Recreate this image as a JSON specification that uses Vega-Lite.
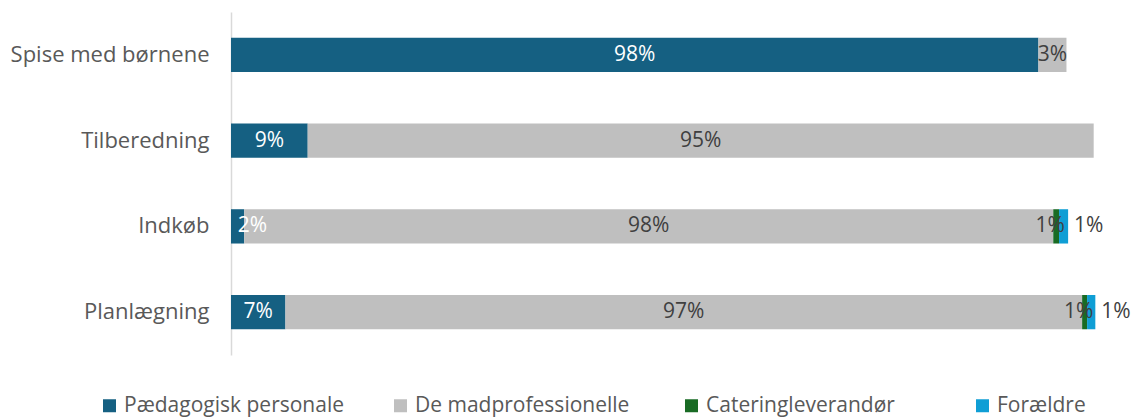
{
  "$schema": "https://vega.github.io/schema/vega-lite/v6.json",
  "width": 880,
  "height": 343,
  "autosize": {"type": "none"},
  "padding": {"left": 231, "top": 12, "right": 22, "bottom": 63},
  "background": "white",
  "config": {
    "view": {"stroke": null},
    "font": "Open Sans",
    "text": {"font": "Open Sans"}
  },
  "data": {
    "values": [
      {"cat": "Spise med børnene", "series": "Pædagogisk personale", "k": 1, "v": 0.979},
      {"cat": "Spise med børnene", "series": "De madprofessionelle", "k": 2, "v": 0.034},
      {"cat": "Tilberedning", "series": "Pædagogisk personale", "k": 1, "v": 0.093},
      {"cat": "Tilberedning", "series": "De madprofessionelle", "k": 2, "v": 0.953},
      {"cat": "Indkøb", "series": "Pædagogisk personale", "k": 1, "v": 0.016},
      {"cat": "Indkøb", "series": "De madprofessionelle", "k": 2, "v": 0.981},
      {"cat": "Indkøb", "series": "Cateringleverandør", "k": 3, "v": 0.007},
      {"cat": "Indkøb", "series": "Forældre", "k": 4, "v": 0.011},
      {"cat": "Planlægning", "series": "Pædagogisk personale", "k": 1, "v": 0.066},
      {"cat": "Planlægning", "series": "De madprofessionelle", "k": 2, "v": 0.966},
      {"cat": "Planlægning", "series": "Cateringleverandør", "k": 3, "v": 0.006},
      {"cat": "Planlægning", "series": "Forældre", "k": 4, "v": 0.010}
    ]
  },
  "transform": [
    {"stack": "v", "groupby": ["cat"], "sort": [{"field": "k", "order": "ascending"}], "as": ["x0", "x1"]},
    {"calculate": "(datum.x0 + datum.x1) / 2", "as": "mid"},
    {"calculate": "max(datum.mid, 0.026)", "as": "midp"}
  ],
  "encoding": {
    "y": {
      "field": "cat",
      "type": "nominal",
      "sort": ["Spise med børnene", "Tilberedning", "Indkøb", "Planlægning"],
      "scale": {"paddingInner": 0.6, "paddingOuter": 0.3},
      "axis": {
        "title": null,
        "ticks": false,
        "domainColor": "#d9d9d9",
        "domainWidth": 1.5,
        "labelFontSize": 22,
        "labelColor": "#595959",
        "labelPadding": 22,
        "labelFont": "Open Sans",
        "labelLimit": 300
      }
    }
  },
  "layer": [
    {
      "mark": {"type": "bar"},
      "encoding": {
        "x": {"field": "x0", "type": "quantitative", "scale": {"domain": [0, 1.067], "nice": false, "zero": true}, "axis": null},
        "x2": {"field": "x1"},
        "color": {
          "field": "series",
          "type": "nominal",
          "scale": {
            "domain": ["Pædagogisk personale", "De madprofessionelle", "Cateringleverandør", "Forældre"],
            "range": ["#156082", "#BFBFBF", "#196B24", "#0F9ED5"]
          },
          "legend": {
            "title": null,
            "orient": "none",
            "legendX": -132,
            "legendY": 383,
            "direction": "horizontal",
            "columns": 4,
            "gridAlign": "all",
            "columnPadding": 46,
            "symbolType": "square",
            "symbolSize": 169,
            "symbolStrokeWidth": 0,
            "labelFontSize": 21,
            "labelColor": "#595959",
            "labelFont": "Open Sans",
            "labelOffset": 4,
            "labelLimit": 400
          }
        }
      }
    },
    {
      "transform": [{"filter": "datum.series === 'Pædagogisk personale'"}],
      "mark": {"type": "text", "fontSize": 21, "color": "white"},
      "encoding": {
        "x": {"field": "midp", "type": "quantitative"},
        "text": {"field": "v", "type": "quantitative", "format": ".0%"}
      }
    },
    {
      "transform": [{"filter": "datum.series === 'De madprofessionelle'"}],
      "mark": {"type": "text", "fontSize": 21, "color": "#404040"},
      "encoding": {
        "x": {"field": "mid", "type": "quantitative"},
        "text": {"field": "v", "type": "quantitative", "format": ".0%"}
      }
    },
    {
      "transform": [{"filter": "datum.series === 'Cateringleverandør'"}],
      "mark": {"type": "text", "fontSize": 21, "color": "#404040", "dx": -6},
      "encoding": {
        "x": {"field": "mid", "type": "quantitative"},
        "text": {"field": "v", "type": "quantitative", "format": ".0%"}
      }
    },
    {
      "transform": [{"filter": "datum.series === 'Forældre'"}],
      "mark": {"type": "text", "fontSize": 21, "color": "#404040", "align": "left", "dx": 6},
      "encoding": {
        "x": {"field": "x1", "type": "quantitative"},
        "text": {"field": "v", "type": "quantitative", "format": ".0%"}
      }
    }
  ]
}
